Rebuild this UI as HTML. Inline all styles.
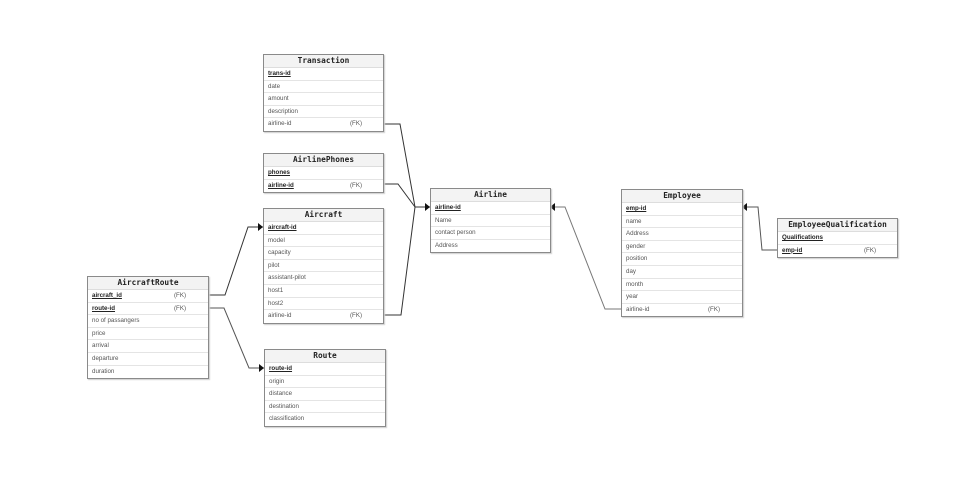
<!DOCTYPE html>
<html><head><style>
body{margin:0;width:974px;height:478px;background:#fff;position:relative;overflow:hidden;font-family:"Liberation Sans",sans-serif}
.t{position:absolute;border:1px solid #8a8a8a;background:#fff;box-shadow:1px 1px 1px #ccc;box-sizing:border-box}
.h{height:13px;line-height:12px;box-sizing:border-box;background:#f3f3f3;text-align:center;font-family:"DejaVu Sans Mono","Liberation Mono",monospace;font-weight:bold;font-size:7.8px;color:#222;border-bottom:1px solid #ddd}
.r{height:12.6px;line-height:12px;box-sizing:border-box;font-size:6.2px;color:#555;padding-left:4px;border-bottom:1px solid #e4e4e4;position:relative}
.r:last-child{border-bottom:none}
.k{color:#222;text-decoration:underline;font-weight:bold}
.fk{position:absolute;left:86px;top:0}
svg{position:absolute;left:0;top:0}
</style></head><body>
<svg width="974" height="478">
<g fill="none" stroke="#333" stroke-width="1">
<polyline points="383,124 400,124 415,207 430,207"/>
<polyline points="383,184 398,184 415,207"/>
<polyline points="383,315 401,315 415,207"/>
<polyline points="208,295 225,295 248,227 263,227"/>
<polyline points="208,308 224,308 249,368 264,368" stroke="#555"/>
<polyline points="621,309 605,309 565,207 550,207" stroke="#777"/>
<polyline points="777,250 762,250 758,207 742,207" stroke="#555"/>
</g>
<g fill="#111">
<polygon points="430,207 425,203 425,211"/>
<polygon points="263,227 258,223 258,231"/>
<polygon points="264,368 259,364 259,372"/>
<polygon points="550,207 555,203 555,211"/>
<polygon points="742,207 747,203 747,211"/>
</g>
</svg>
<div class="t" style="left:263px;top:54px;width:121px"><div class="h">Transaction</div><div class="r k">trans-id</div><div class="r">date</div><div class="r">amount</div><div class="r">description</div><div class="r">airline-id<span class="fk">(FK)</span></div></div>
<div class="t" style="left:263px;top:153px;width:121px"><div class="h">AirlinePhones</div><div class="r k">phones</div><div class="r k">airline-id<span class="fk" style="font-weight:normal;text-decoration:none;color:#555">(FK)</span></div></div>
<div class="t" style="left:263px;top:208px;width:121px"><div class="h">Aircraft</div><div class="r k">aircraft-id</div><div class="r">model</div><div class="r">capacity</div><div class="r">pilot</div><div class="r">assistant-pilot</div><div class="r">host1</div><div class="r">host2</div><div class="r">airline-id<span class="fk">(FK)</span></div></div>
<div class="t" style="left:264px;top:349px;width:122px"><div class="h">Route</div><div class="r k">route-id</div><div class="r">origin</div><div class="r">distance</div><div class="r">destination</div><div class="r">classification</div></div>
<div class="t" style="left:87px;top:276px;width:122px"><div class="h">AircraftRoute</div><div class="r k">aircraft_id<span class="fk" style="font-weight:normal;text-decoration:none;color:#555">(FK)</span></div><div class="r k">route-id<span class="fk" style="font-weight:normal;text-decoration:none;color:#555">(FK)</span></div><div class="r">no of passangers</div><div class="r">price</div><div class="r">arrival</div><div class="r">departure</div><div class="r">duration</div></div>
<div class="t" style="left:430px;top:188px;width:121px"><div class="h">Airline</div><div class="r k">airline-id</div><div class="r">Name</div><div class="r">contact person</div><div class="r">Address</div></div>
<div class="t" style="left:621px;top:189px;width:122px"><div class="h">Employee</div><div class="r k">emp-id</div><div class="r">name</div><div class="r">Address</div><div class="r">gender</div><div class="r">position</div><div class="r">day</div><div class="r">month</div><div class="r">year</div><div class="r">airline-id<span class="fk">(FK)</span></div></div>
<div class="t" style="left:777px;top:218px;width:121px"><div class="h">EmployeeQualification</div><div class="r k">Qualifications</div><div class="r k">emp-id<span class="fk" style="font-weight:normal;text-decoration:none;color:#555">(FK)</span></div></div>
</body></html>
